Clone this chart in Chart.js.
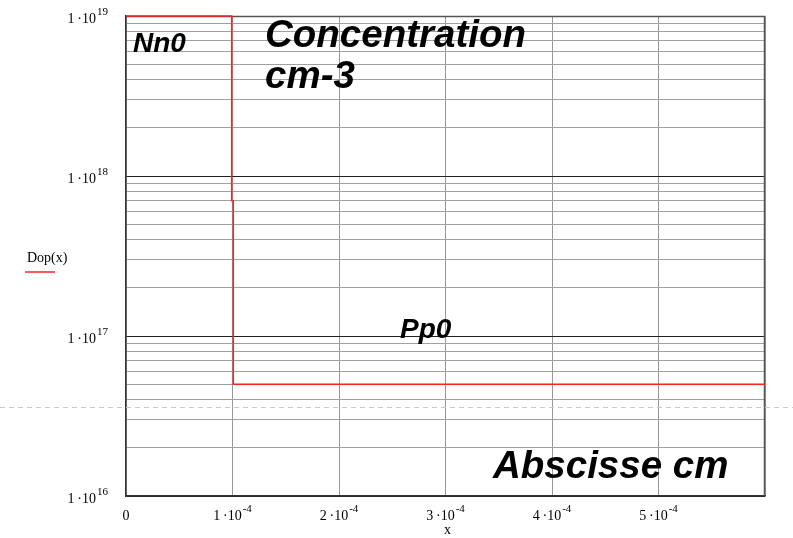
<!DOCTYPE html>
<html>
<head>
<meta charset="utf-8">
<script src="https://cdn.jsdelivr.net/npm/chart.js@4"></script>
<style>
  html, body { margin: 0; padding: 0; background: #fff; }
  canvas { display: block; }
</style>
</head>
<body>
<canvas id="dopChart" width="793" height="538"></canvas>
<script>
// profile Dop(x)
const xPos = [0, 0.992e-4, 0.992e-4, 1.0075e-4, 1.0075e-4, 6e-4];
const dop = [1e19, 1e19, 7e17, 7e17, 5e16, 5e16];

const xTicks = [0, 1e-4, 2e-4, 3e-4, 4e-4, 5e-4, 6e-4];
const xTickLabels = ['0', '1\u2009·10^-4', '2\u2009·10^-4', '3\u2009·10^-4', '4\u2009·10^-4', '5\u2009·10^-4', ''];
const yDecades = [1e16, 1e17, 1e18, 1e19];
const yTickLabels = ['1\u2009·10^16', '1\u2009·10^17', '1\u2009·10^18', '1\u2009·10^19'];
const yMinorSteps = [2, 3, 4, 5, 6, 7, 8, 9];

const notes = [
    { text: 'Nn0', size: 28, dx: 7, dy: 36 },
    { text: 'Concentration', size: 38.5, dx: 139, dy: 31 },
    { text: 'cm-3', size: 38.5, dx: 139, dy: 72 },
    { text: 'Pp0', size: 28, dx: 274, dy: 322 },
    { text: 'Abscisse cm', size: 38.5, dx: 367, dy: 462 }
];

function isDecade(v) {
    const l = Math.log10(v);
    return Math.abs(l - Math.round(l)) < 1e-6;
}

// "1·10^-4" -> main text + raised exponent
function drawPow(ctx, label, x, y, align) {
    const parts = label.split('^');
    ctx.font = '14px "Liberation Serif"';
    const wMain = ctx.measureText(parts[0]).width;
    ctx.font = '11px "Liberation Serif"';
    const wExp = parts[1] ? ctx.measureText(parts[1]).width + 1 : 0;
    const total = wMain + wExp;
    let left = x;
    if (align === 'right') left = x - total;
    if (align === 'center') left = x - total / 2;
    ctx.textAlign = 'left';
    ctx.textBaseline = 'alphabetic';
    ctx.fillStyle = '#000';
    ctx.font = '14px "Liberation Serif"';
    ctx.fillText(parts[0], left, y);
    if (parts[1]) {
        ctx.font = '11px "Liberation Serif"';
        ctx.fillText(parts[1], left + wMain + 1, y - 8);
    }
}

const overlay = {
    id: 'overlay',
    beforeDatasetsDraw(chart) {
        const { ctx, chartArea: a } = chart;
        ctx.save();
        ctx.strokeStyle = '#555';
        ctx.lineWidth = 1.5;
        ctx.beginPath();
        ctx.moveTo(a.left, a.top + 0.5);
        ctx.lineTo(a.right - 0.5, a.top + 0.5);
        ctx.lineTo(a.right - 0.5, a.bottom);
        ctx.stroke();
        ctx.restore();
    },
    afterDraw(chart) {
        const { ctx, chartArea: a, scales } = chart;
        ctx.save();
        // tick labels
        yDecades.forEach((v, i) => {
            drawPow(ctx, yTickLabels[i], a.left - 18, scales.y.getPixelForValue(v) + 7, 'right');
        });
        xTicks.forEach((v, i) => {
            if (xTickLabels[i]) {
                drawPow(ctx, xTickLabels[i], scales.x.getPixelForValue(v), a.bottom + 24, 'center');
            }
        });
        // axis names
        ctx.font = '14px "Liberation Serif"';
        ctx.fillStyle = '#000';
        ctx.textAlign = 'center';
        ctx.fillText('x', (a.left + a.right) / 2 + 2, a.bottom + 38);
        ctx.textAlign = 'left';
        ctx.fillText('Dop(x)', 27, (a.top + a.bottom) / 2 + 6);
        ctx.strokeStyle = '#ff2020';
        ctx.lineWidth = 1.5;
        ctx.beginPath();
        ctx.moveTo(25, (a.top + a.bottom) / 2 + 16);
        ctx.lineTo(55, (a.top + a.bottom) / 2 + 16);
        ctx.stroke();
        // annotations
        notes.forEach(n => {
            ctx.font = 'italic bold ' + n.size + 'px "Liberation Sans"';
            ctx.fillStyle = '#000';
            ctx.fillText(n.text, a.left + n.dx, a.top + n.dy);
        });
        // page break line
        ctx.strokeStyle = '#c8c8c8';
        ctx.lineWidth = 1;
        ctx.setLineDash([5, 4]);
        ctx.beginPath();
        ctx.moveTo(0, 407.5);
        ctx.lineTo(chart.width, 407.5);
        ctx.stroke();
        ctx.restore();
    }
};

new Chart(document.getElementById('dopChart').getContext('2d'), {
    type: 'line',
    data: {
        datasets: [{
            label: 'Dop(x)',
            data: xPos.map((v, i) => ({ x: v, y: dop[i] })),
            borderColor: '#ff2020',
            borderWidth: 1.5,
            pointRadius: 0,
            tension: 0,
            clip: false
        }]
    },
    options: {
        responsive: false,
        animation: false,
        devicePixelRatio: 1,
        layout: { padding: { left: 126, top: 16, right: 28, bottom: 42 } },
        plugins: { legend: { display: false }, tooltip: { enabled: false } },
        scales: {
            x: {
                type: 'linear',
                min: 0,
                max: 6e-4,
                afterBuildTicks: axis => { axis.ticks = xTicks.map(v => ({ value: v })); },
                ticks: { display: false },
                grid: { color: '#999', lineWidth: 1, drawTicks: false },
                border: { color: '#333', width: 1.5 }
            },
            y: {
                type: 'logarithmic',
                min: 1e16,
                max: 1e19,
                afterBuildTicks: axis => {
                    const t = [];
                    yDecades.forEach(d => {
                        t.push({ value: d });
                        if (d < 1e19) yMinorSteps.forEach(k => t.push({ value: k * d }));
                    });
                    axis.ticks = t;
                },
                ticks: { display: false },
                grid: {
                    drawTicks: false,
                    lineWidth: 1,
                    color: c => (c.tick && isDecade(c.tick.value)) ? '#222' : '#a0a0a0'
                },
                border: { color: '#333', width: 1.5 }
            }
        }
    },
    plugins: [overlay]
});
</script>
</body>
</html>
